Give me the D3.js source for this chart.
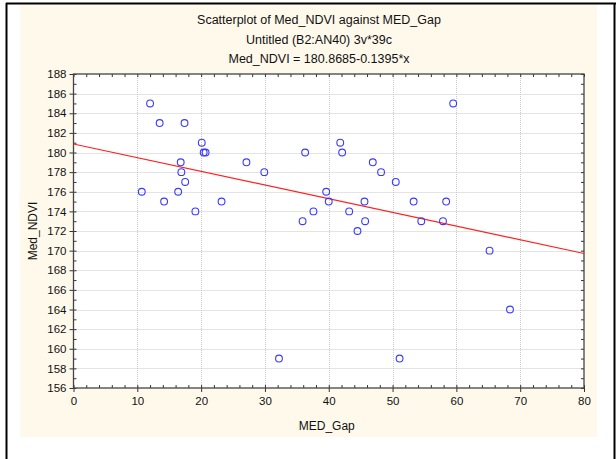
<!DOCTYPE html>
<html>
<head>
<meta charset="utf-8">
<script src="https://cdn.jsdelivr.net/npm/d3@7"></script>
<style>
  html, body { margin: 0; padding: 0; background: #ffffff; }
  svg { display: block; font-family: "Liberation Sans", Arial, sans-serif; }
</style>
</head>
<body>
<svg id="chart" width="616" height="459"></svg>
<script>
// MED_Gap (x) and Med_NDVI (y) for the 39 cases
const medGap = [10.7, 12.0, 13.5, 14.2, 17.4, 16.8, 16.9, 16.4, 17.5, 19.1,
                20.1, 20.4, 20.7, 23.2, 27.1, 29.9, 32.2, 35.9, 36.3, 37.6,
                39.6, 40.0, 41.8, 42.1, 43.2, 44.5, 45.6, 45.7, 46.9, 48.2,
                50.5, 51.1, 53.3, 54.5, 57.9, 58.4, 59.5, 65.2, 68.4];
const medNdvi = [176, 185, 183, 175, 183, 179, 178, 176, 177, 174,
                 181, 180, 180, 175, 179, 178, 159, 173, 180, 174,
                 176, 175, 181, 180, 174, 172, 175, 173, 179, 178,
                 177, 159, 175, 173, 173, 175, 185, 170, 164];

// Fitted regression: Med_NDVI = 180.8685 - 0.1395*x
const intercept = 180.8685;
const slope = -0.1395;

const xTicks = [0, 10, 20, 30, 40, 50, 60, 70, 80];
const yTicks = [156, 158, 160, 162, 164, 166, 168, 170, 172, 174, 176, 178, 180, 182, 184, 186, 188];
const xMinor = d3.range(0, 80.001, 2);
const yMinor = d3.range(156, 188.001, 1);

const titleLines = [
  "Scatterplot of Med_NDVI against MED_Gap",
  "Untitled (B2:AN40) 3v*39c",
  "Med_NDVI = 180.8685-0.1395*x"
];

const svg = d3.select("#chart");

// outer page frame
svg.append("rect").attr("x", 20).attr("y", 5).attr("width", 577).attr("height", 432)
  .attr("fill", "#fff9ec");
svg.append("line").attr("x1", 6.5).attr("x2", 6.5).attr("y1", 3).attr("y2", 459)
  .attr("stroke", "#000").attr("stroke-width", 2);
svg.append("line").attr("x1", 6).attr("x2", 616).attr("y1", 3.5).attr("y2", 3.5)
  .attr("stroke", "#000").attr("stroke-width", 2);
svg.append("line").attr("x1", 614.5).attr("x2", 614.5).attr("y1", 3).attr("y2", 459)
  .attr("stroke", "#000").attr("stroke-width", 2);

const pLeft = 73.5, pRight = 584, pTop = 74, pBottom = 388;
const x = d3.scaleLinear().domain([0, 80]).range([pLeft, pRight]);
const y = d3.scaleLinear().domain([156, 188]).range([pBottom, pTop]);

// plot area
svg.append("rect").attr("x", pLeft).attr("y", pTop)
  .attr("width", pRight - pLeft).attr("height", pBottom - pTop).attr("fill", "#ffffff");

// dotted grid
const grid = svg.append("g").attr("stroke", "#c8c8c8").attr("stroke-dasharray", "1,1").attr("stroke-width", 1);
grid.selectAll(".gx").data(xTicks.slice(1, -1)).join("line")
  .attr("x1", d => Math.round(x(d)) + 0.5).attr("x2", d => Math.round(x(d)) + 0.5)
  .attr("y1", pTop).attr("y2", pBottom);
grid.selectAll(".gy").data(yTicks.slice(1, -1)).join("line")
  .attr("x1", pLeft).attr("x2", pRight)
  .attr("y1", d => Math.round(y(d)) + 0.5).attr("y2", d => Math.round(y(d)) + 0.5);

// axes: bottom & left with labels, top & right tick-only
const tickStyle = g => {
  g.select(".domain").remove();
  g.selectAll("line").attr("stroke", "#333");
  g.selectAll("text").attr("fill", "#111").style("font-size", "11.5px");
};
svg.append("g").attr("transform", `translate(0,${pBottom})`)
  .call(d3.axisBottom(x).tickValues(xMinor).tickSize(-3).tickFormat(""))
  .call(tickStyle);
svg.append("g").attr("transform", `translate(0,${pBottom})`)
  .call(d3.axisBottom(x).tickValues(xTicks).tickSize(4).tickPadding(5).tickFormat(d3.format("d")))
  .call(tickStyle);
svg.append("g").attr("transform", `translate(${pLeft},0)`)
  .call(d3.axisLeft(y).tickValues(yMinor).tickSize(-3).tickFormat(""))
  .call(tickStyle);
svg.append("g").attr("transform", `translate(${pLeft},0)`)
  .call(d3.axisLeft(y).tickValues(yTicks).tickSize(4).tickPadding(3).tickFormat(d3.format("d")))
  .call(tickStyle);
svg.append("g").attr("transform", `translate(0,${pTop})`)
  .call(d3.axisTop(x).tickValues(xMinor).tickSize(-3).tickFormat(""))
  .call(tickStyle);
svg.append("g").attr("transform", `translate(${pRight},0)`)
  .call(d3.axisRight(y).tickValues(yMinor).tickSize(-3).tickFormat(""))
  .call(tickStyle);

// plot frame
svg.append("rect").attr("x", pLeft).attr("y", pTop)
  .attr("width", pRight - pLeft).attr("height", pBottom - pTop)
  .attr("fill", "none").attr("stroke", "#444").attr("stroke-width", 1.3);

// regression line
svg.append("line")
  .attr("x1", x(0)).attr("y1", y(intercept + slope * 0))
  .attr("x2", x(80)).attr("y2", y(intercept + slope * 80))
  .attr("stroke", "#ff2020").attr("stroke-width", 1.2);

// points
svg.append("g").selectAll("circle").data(medGap.map((g, i) => [g, medNdvi[i]])).join("circle")
  .attr("cx", d => x(d[0])).attr("cy", d => y(d[1])).attr("r", 3.4)
  .attr("fill", "none").attr("stroke", "#3a3aff").attr("stroke-width", 1.1);

// titles
svg.append("g").selectAll("text").data(titleLines).join("text")
  .attr("x", 319).attr("y", (d, i) => 24 + i * 19.5)
  .attr("text-anchor", "middle").attr("fill", "#111").style("font-size", "12.5px")
  .text(d => d);

svg.append("text").attr("x", (pLeft + pRight) / 2 - 2).attr("y", 430)
  .attr("text-anchor", "middle").attr("fill", "#111").style("font-size", "12px")
  .text("MED_Gap");
svg.append("text").attr("transform", `translate(37,${(pTop + pBottom) / 2}) rotate(-90)`)
  .attr("text-anchor", "middle").attr("fill", "#111").style("font-size", "12px")
  .text("Med_NDVI");
</script>
</body>
</html>
